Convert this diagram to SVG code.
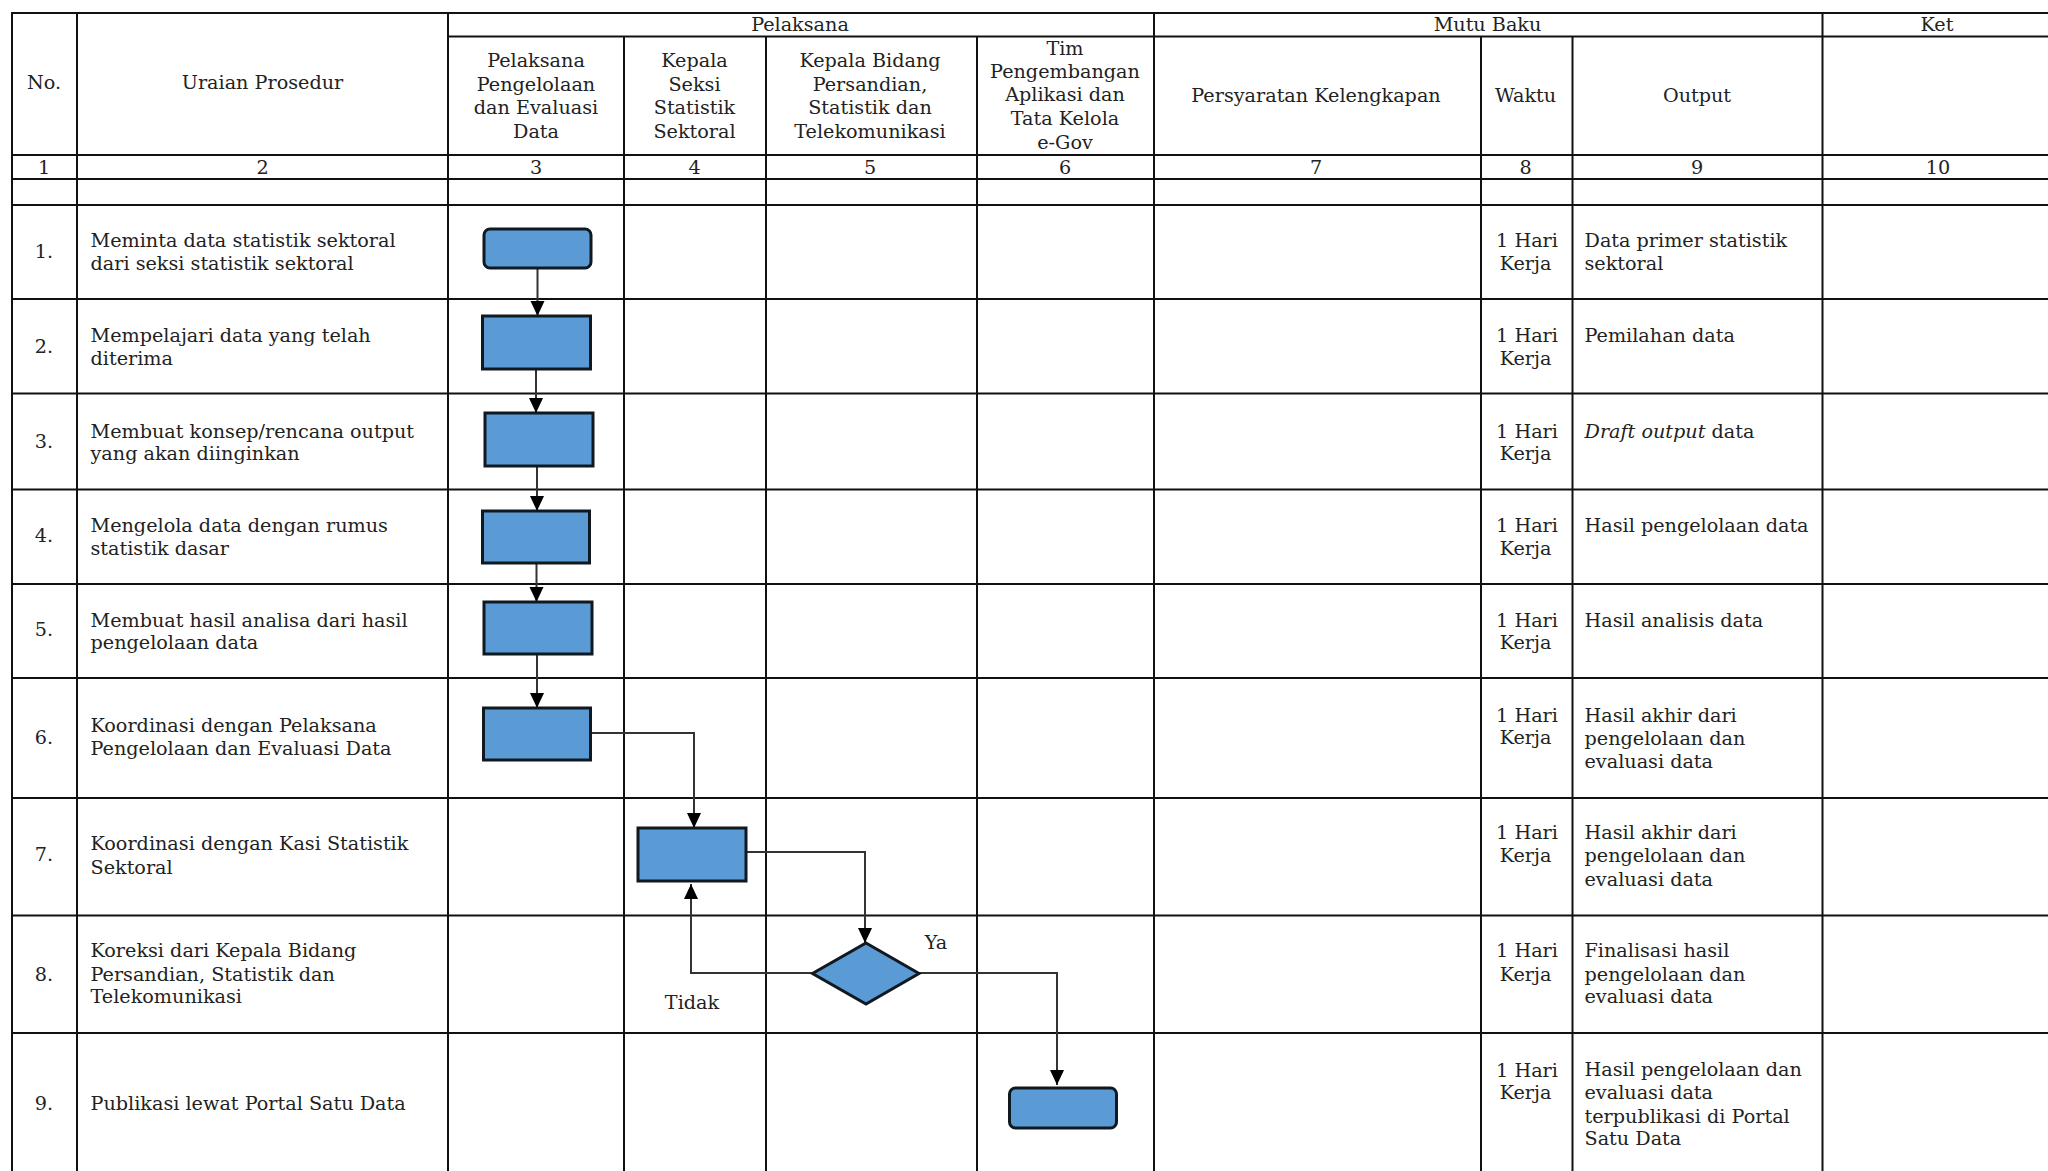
<svg xmlns="http://www.w3.org/2000/svg" width="2048" height="1171" viewBox="0 0 2048 1171">
<style>
text{font-family:"DejaVu Serif","Liberation Serif",serif;font-size:19.200px;fill:#222}
.c{text-anchor:middle}
.g{stroke:#111;stroke-width:2;fill:none}
.n{fill:#5b9bd5;stroke:#101820;stroke-width:3}
.a{stroke:#333;stroke-width:2;fill:none;marker-end:url(#ah)}
</style>
<defs><marker id="ah" markerUnits="userSpaceOnUse" markerWidth="15" markerHeight="15" refX="15" refY="7" orient="auto"><path d="M0 0L15 7L0 14Z" fill="#000"/></marker></defs>
<rect width="2048" height="1171" fill="#fff"/>
<g id="grid" class="g">
<path d="M11 13H2048M448 36.500H2048M11 155H2048M11 179H2048M11 205H2048M11 299H2048M11 393.500H2048M11 489.500H2048M11 584H2048M11 678H2048M11 798H2048M11 915.500H2048M11 1033H2048"/>
<path d="M12 13V1171M77 13V1171M448 13V1171M1154 13V1171M1822.500 13V1171M624 36.500V1171M766 36.500V1171M977 36.500V1171M1481 36.500V1171M1572.500 36.500V1171"/>
</g>
<g id="header" transform="translate(0,-0.500)">
<text class="c" x="44" y="89">No.</text>
<text class="c" x="262.500" y="89">Uraian Prosedur</text>
<text class="c" x="800" y="31">Pelaksana</text>
<text class="c" x="1487.500" y="31">Mutu Baku</text>
<text class="c" x="1937" y="31">Ket</text>
<text class="c" x="536" y="67">Pelaksana</text><text class="c" x="536" y="91">Pengelolaan</text><text class="c" x="536" y="114">dan Evaluasi</text><text class="c" x="536" y="138">Data</text>
<text class="c" x="694.500" y="67">Kepala</text><text class="c" x="694.500" y="91">Seksi</text><text class="c" x="694.500" y="114">Statistik</text><text class="c" x="694.500" y="138">Sektoral</text>
<text class="c" x="870" y="67">Kepala Bidang</text><text class="c" x="870" y="91">Persandian,</text><text class="c" x="870" y="114">Statistik dan</text><text class="c" x="870" y="138">Telekomunikasi</text>
<text class="c" x="1065" y="55">Tim</text><text class="c" x="1065" y="78">Pengembangan</text><text class="c" x="1065" y="101">Aplikasi dan</text><text class="c" x="1065" y="125">Tata Kelola</text><text class="c" x="1065" y="149">e-Gov</text>
<text class="c" x="1316" y="102">Persyaratan Kelengkapan</text>
<text class="c" x="1525.500" y="102">Waktu</text>
<text class="c" x="1697" y="102">Output</text>
<text class="c" x="44" y="174">1</text><text class="c" x="262.500" y="174">2</text><text class="c" x="536" y="174">3</text><text class="c" x="694.500" y="174">4</text><text class="c" x="870" y="174">5</text><text class="c" x="1065" y="174">6</text><text class="c" x="1316" y="174">7</text><text class="c" x="1525.500" y="174">8</text><text class="c" x="1697" y="174">9</text><text class="c" x="1938" y="174">10</text>
</g>
<g id="rows">
<g id="row1"><text class="c" x="44" y="258">1.</text><text x="90.500" y="247">Meminta data statistik sektoral</text><text x="90.500" y="270">dari seksi statistik sektoral</text><text class="c" x="1527" y="247">1 Hari</text><text class="c" x="1525.500" y="270">Kerja</text><text x="1584.500" y="247">Data primer statistik</text><text x="1584.500" y="270">sektoral</text></g>
<g id="row2"><text class="c" x="44" y="353">2.</text><text x="90.500" y="342">Mempelajari data yang telah</text><text x="90.500" y="365">diterima</text><text class="c" x="1527" y="342">1 Hari</text><text class="c" x="1525.500" y="365">Kerja</text><text x="1584.500" y="342">Pemilahan data</text></g>
<g id="row3"><text class="c" x="44" y="448">3.</text><text x="90.500" y="438">Membuat konsep/rencana output</text><text x="90.500" y="460">yang akan diinginkan</text><text class="c" x="1527" y="438">1 Hari</text><text class="c" x="1525.500" y="460">Kerja</text><text x="1584.500" y="438"><tspan font-style="italic">Draft output</tspan> data</text></g>
<g id="row4"><text class="c" x="44" y="542">4.</text><text x="90.500" y="532">Mengelola data dengan rumus</text><text x="90.500" y="555">statistik dasar</text><text class="c" x="1527" y="532">1 Hari</text><text class="c" x="1525.500" y="555">Kerja</text><text x="1584.500" y="532">Hasil pengelolaan data</text></g>
<g id="row5"><text class="c" x="44" y="636">5.</text><text x="90.500" y="627">Membuat hasil analisa dari hasil</text><text x="90.500" y="649">pengelolaan data</text><text class="c" x="1527" y="627">1 Hari</text><text class="c" x="1525.500" y="649">Kerja</text><text x="1584.500" y="627">Hasil analisis data</text></g>
<g id="row6"><text class="c" x="44" y="744">6.</text><text x="90.500" y="732">Koordinasi dengan Pelaksana</text><text x="90.500" y="755">Pengelolaan dan Evaluasi Data</text><text class="c" x="1527" y="722">1 Hari</text><text class="c" x="1525.500" y="744">Kerja</text><text x="1584.500" y="722">Hasil akhir dari</text><text x="1584.500" y="745">pengelolaan dan</text><text x="1584.500" y="768">evaluasi data</text></g>
<g id="row7"><text class="c" x="44" y="861">7.</text><text x="90.500" y="850">Koordinasi dengan Kasi Statistik</text><text x="90.500" y="874">Sektoral</text><text class="c" x="1527" y="839">1 Hari</text><text class="c" x="1525.500" y="862">Kerja</text><text x="1584.500" y="839">Hasil akhir dari</text><text x="1584.500" y="862">pengelolaan dan</text><text x="1584.500" y="886">evaluasi data</text></g>
<g id="row8"><text class="c" x="44" y="981">8.</text><text x="90.500" y="957">Koreksi dari Kepala Bidang</text><text x="90.500" y="981">Persandian, Statistik dan</text><text x="90.500" y="1003">Telekomunikasi</text><text class="c" x="1527" y="957">1 Hari</text><text class="c" x="1525.500" y="981">Kerja</text><text x="1584.500" y="957">Finalisasi hasil</text><text x="1584.500" y="981">pengelolaan dan</text><text x="1584.500" y="1003">evaluasi data</text></g>
<g id="row9"><text class="c" x="44" y="1110">9.</text><text x="90.500" y="1110">Publikasi lewat Portal Satu Data</text><text class="c" x="1527" y="1077">1 Hari</text><text class="c" x="1525.500" y="1099">Kerja</text><text x="1584.500" y="1076">Hasil pengelolaan dan</text><text x="1584.500" y="1099">evaluasi data</text><text x="1584.500" y="1123">terpublikasi di Portal</text><text x="1584.500" y="1145">Satu Data</text></g>
</g>
<g id="connectors">
<path class="a" d="M537.500 268V316"/>
<path class="a" d="M536 369V413"/>
<path class="a" d="M537 466V511"/>
<path class="a" d="M536.500 563V602"/>
<path class="a" d="M537 654V708"/>
<path class="a" d="M590 733H694V828"/>
<path class="a" d="M746 852H865V943"/>
<path class="a" d="M812 973H691V884"/>
<path class="a" d="M919 973H1057V1085"/>
</g>
<g id="node1"><rect class="n" x="484" y="229" width="107" height="39" rx="6"/></g>
<g id="node2"><rect class="n" x="482.500" y="316" width="108" height="53"/></g>
<g id="node3"><rect class="n" x="485" y="413" width="108" height="53"/></g>
<g id="node4"><rect class="n" x="482.500" y="511" width="107" height="52"/></g>
<g id="node5"><rect class="n" x="484" y="602" width="108" height="52"/></g>
<g id="node6"><rect class="n" x="483.500" y="708" width="107" height="52"/></g>
<g id="node7"><rect class="n" x="638" y="828" width="108" height="53"/></g>
<g id="node8"><path class="n" d="M866 943L919 973.500L866 1004L812.500 973.500Z"/></g>
<g id="node9"><rect class="n" x="1009.500" y="1088" width="107" height="40" rx="6"/></g>
<g id="labels"><text class="c" x="936" y="949">Ya</text><text class="c" x="692" y="1009">Tidak</text></g>
</svg>
